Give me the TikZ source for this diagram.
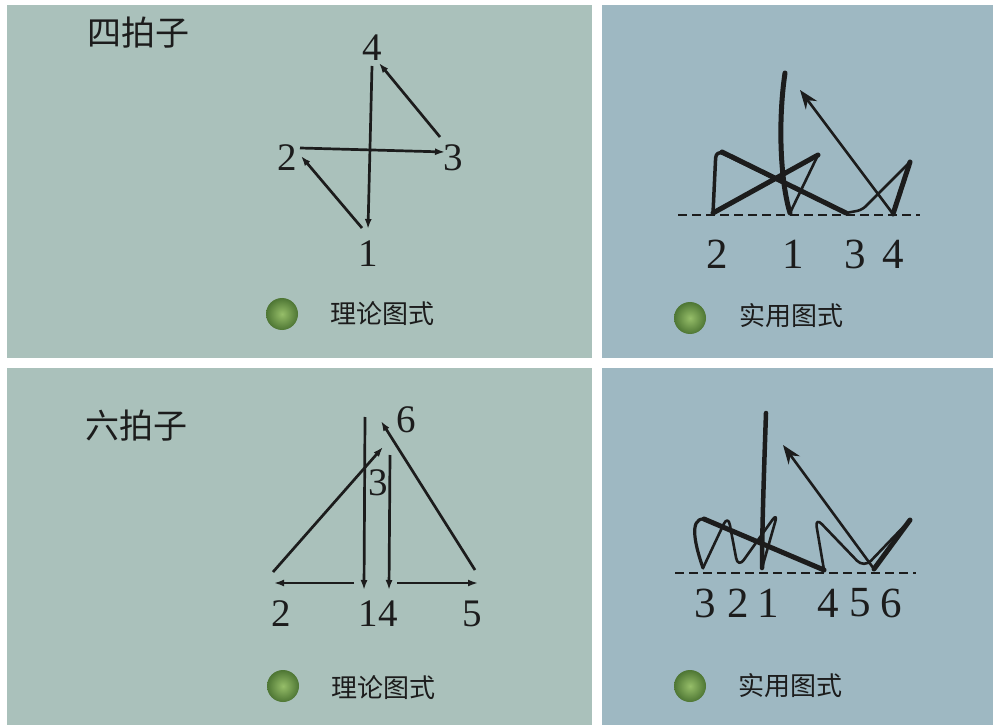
\documentclass[tikz,border=0pt]{standalone}
\usepackage{fontspec}
\setmainfont{Liberation Serif}
\newfontfamily\cjk{Noto Sans CJK SC}
\usetikzlibrary{arrows.meta}
\definecolor{bgL}{RGB}{170,193,187}
\definecolor{bgR}{RGB}{158,184,194}
\definecolor{ink}{RGB}{28,28,28}
\definecolor{ballhi}{RGB}{150,190,105}
\definecolor{balllo}{RGB}{78,118,52}
\begin{document}
\begin{tikzpicture}[x=1pt,y=-1pt,
  titletxt/.style={font=\cjk\fontsize{34}{34}\selectfont,text=ink,inner sep=0pt},
  captxt/.style={font=\cjk\fontsize{26}{26}\selectfont,text=ink,inner sep=0pt},
  numL/.style={font=\fontsize{39}{39}\selectfont,text=ink,inner sep=0pt},
  numR/.style={font=\fontsize{43}{43}\selectfont,text=ink,inner sep=0pt},
  arr/.style={draw=ink,line width=2.7pt,-{Latex[length=10pt,width=7pt]}},
  thinpen/.style={draw=ink,line width=2.6pt,line cap=round,line join=round},
  thickpen/.style={draw=ink,line width=5pt,line cap=round,line join=round},
  baseline dash/.style={draw=ink,line width=2.6pt,dash pattern=on 9pt off 5pt},
  bigarr/.style={draw=ink,line width=2.6pt,-{Stealth[length=19pt,width=14pt]}},
  ballsh/.style={inner color=ballhi,outer color=balllo}
]
\useasboundingbox (0,0) rectangle (993,727);
\fill[white] (0,0) rectangle (993,727);
\fill[bgL] (7,5) rectangle (592,358);
\fill[bgR] (602,5) rectangle (993,358);
\fill[bgL] (7,368) rectangle (592,725);
\fill[bgR] (602,368) rectangle (993,725);

% ---------- titles and captions ----------
\node[titletxt] (t1) at (138,33) {四拍子};
\node[titletxt] (t2) at (136,426) {六拍子};
\shade[ballsh] (282,314) circle (16);
\node[captxt] (c1) at (382,314) {理论图式};
\shade[ballsh] (690,318) circle (16);
\node[captxt] (c2) at (791,316) {实用图式};
\shade[ballsh] (283,686) circle (16);
\node[captxt] (c3) at (383,688) {理论图式};
\shade[ballsh] (690,686) circle (16);
\node[captxt] (c4) at (790,686) {实用图式};

% ---------- top-left: 4 beats theory ----------
\node[numL] (a4) at (372,48) {4};
\node[numL] (a1) at (368,254) {1};
\node[numL] (a2) at (287,158) {2};
\node[numL] (a3) at (453,158) {3};
\coordinate (a4t) at (372,66);
\coordinate (a1t) at (368,229);
\coordinate (a2s) at (300,148);
\coordinate (a3e) at (445,152);
\coordinate (a3s) at (440,137);
\coordinate (a4e) at (379,63);
\coordinate (a1s) at (362,228);
\coordinate (a2e) at (301,156);
\draw[arr] (a4t) -- (a1t);
\draw[arr] (a1s) -- (a2e);
\draw[arr] (a2s) -- (a3e);
\draw[arr] (a3s) -- (a4e);

% ---------- bottom-left: 6 beats theory ----------
\node[numL] (b6) at (406,420) {6};
\node[numL] (b3) at (378,483) {3};
\node[numL] (b2) at (281,614) {2};
\node[numL] (b14) at (378,614) {14};
\node[numL] (b5) at (472,614) {5};
\coordinate (bLt) at (365,417);
\coordinate (bLb) at (364,590);
\coordinate (bRt) at (390,455);
\coordinate (bRb) at (389,590);
\coordinate (b2s) at (273,572);
\coordinate (b2e) at (383,447);
\coordinate (b5s) at (475,570);
\coordinate (b5e) at (381,421);
\coordinate (bh1s) at (354,583);
\coordinate (bh1e) at (274,583);
\coordinate (bh2s) at (397,583);
\coordinate (bh2e) at (478,583);
\draw[arr] (bLt) -- (bLb);
\draw[arr] (bh1s) -- (bh1e);
\draw[arr] (b2s) -- (b2e);
\draw[arr] (bRt) -- (bRb);
\draw[arr] (bh2s) -- (bh2e);
\draw[arr] (b5s) -- (b5e);

% ---------- top-right: 4 beats practical ----------
\coordinate (r0) at (678,215);
\coordinate (r9) at (920,215);
\draw[baseline dash] (r0) -- (r9);
\node[numR] (r2) at (717,254) {2};
\node[numR] (r1) at (793,254) {1};
\node[numR] (r3) at (855,254) {3};
\node[numR] (r4) at (893,254) {4};
\coordinate (rtop) at (785,73);
\coordinate (rb1) at (790,213);
\coordinate (rpA) at (818,155);
\coordinate (rb2) at (713,213);
\coordinate (r2t) at (716,150);
\coordinate (r2tb) at (722,152);
\coordinate (rb3) at (846,213);
\coordinate (rb3b) at (862,210);
\coordinate (rpB) at (910,162);
\coordinate (rb4) at (893,214);
\coordinate (rarr) at (800,90);
\draw[thickpen] (rtop) .. controls (778,120) and (780,180) .. (rb1);
\draw[thinpen] (rb1) -- (rpA);
\draw[thickpen] (rpA) -- (rb2);
\draw[thinpen,line width=3.5pt,rounded corners=8pt] (rb2) -- (r2t) -- (rb3);
\draw[thickpen] (r2tb) -- (rb3);
\draw[thinpen,rounded corners=5pt] (rb3) -- (rb3b) -- (rpB);
\draw[thickpen,rounded corners=3pt] (rpB) -- (rb4);
\draw[bigarr] (rb4) -- (rarr);

% ---------- bottom-right: 6 beats practical ----------
\coordinate (s0) at (675,573);
\coordinate (s9) at (916,573);
\draw[baseline dash] (s0) -- (s9);
\node[numR] (s3) at (705,603) {3};
\node[numR] (s2) at (738,603) {2};
\node[numR] (s1) at (768,603) {1};
\node[numR] (s4) at (828,603) {4};
\node[numR] (s5) at (860,603) {5};
\node[numR] (s6) at (891,603) {6};
\coordinate (stop) at (766,413);
\coordinate (sb1) at (762,568);
\coordinate (spa) at (778,512);
\coordinate (sb2) at (738,568);
\coordinate (spb) at (728,515);
\coordinate (sb3) at (703,568);
\coordinate (slt) at (704,519);
\coordinate (sb4) at (824,570);
\coordinate (spc) at (815,517);
\coordinate (sb5) at (864,568);
\coordinate (spd) at (910,520);
\coordinate (sb6) at (874,569);
\coordinate (sarr) at (783,445);
\draw[thickpen,line width=4.5pt] (stop) .. controls (764,470) and (762,530) .. (sb1);
\draw[thinpen,rounded corners=10pt] (sb1) -- (spa) -- (sb2) -- (spb) -- (sb3);
\draw[thinpen,line width=3.2pt] (sb3) .. controls (696,548) and (688,518) .. (slt);
\draw[thickpen] (slt) -- (sb4);
\draw[thinpen,rounded corners=10pt] (sb4) -- (spc) -- (sb5) -- (spd) -- (sb6);
\draw[thickpen,rounded corners=4pt] (spd) -- (sb6);
\draw[bigarr] (sb6) -- (sarr);
\end{tikzpicture}
\end{document}
